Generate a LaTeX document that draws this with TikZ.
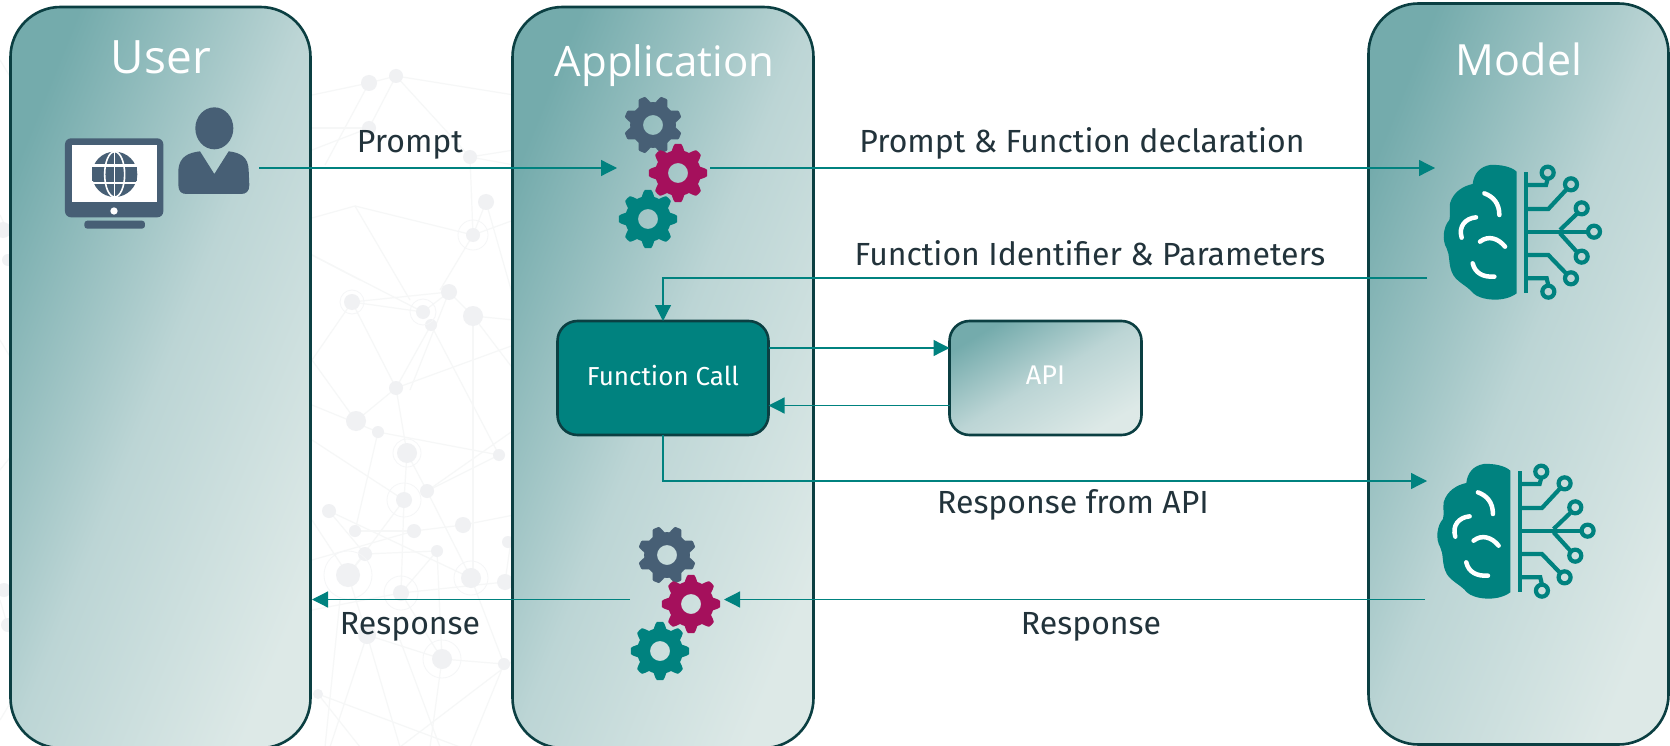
\documentclass[tikz,border=0pt]{standalone}
\usepackage{fontspec}
\setmainfont{Fira Sans}
\newfontfamily\titlefont{Open Sans}
\usetikzlibrary{arrows.meta}
\definecolor{teal}{HTML}{00827F}
\definecolor{edge}{HTML}{0B3F42}
\definecolor{slate}{HTML}{475F75}
\definecolor{plum}{HTML}{A5105C}
\definecolor{ink}{HTML}{22333B}
\definecolor{gdark}{HTML}{74ABAC}
\definecolor{gmid}{HTML}{BCD5D5}
\definecolor{glight}{HTML}{DDE9E7}
\definecolor{netc}{HTML}{F6F7F7}
\definecolor{netn}{HTML}{F0F1F3}
\definecolor{neth}{HTML}{F5F6F7}
\tikzset{
  x=1pt,y=-1pt,
  panel/.style={draw=edge,line width=2.6pt,rounded corners=50pt,top color=gdark,bottom color=glight,middle color=gmid,shading angle=68,minimum width=300pt,minimum height=741pt,inner sep=0pt,outer sep=0pt,anchor=north west},
  apibox/.style={draw=edge,line width=2.6pt,rounded corners=20pt,top color=gdark,bottom color=glight,middle color=gmid,shading angle=31,minimum width=192pt,minimum height=114pt,inner sep=0pt,outer sep=0pt,text=white,font=\fontsize{27}{30}\selectfont},
  fcbox/.style={draw=edge,line width=2.6pt,rounded corners=20pt,fill=teal,minimum width=211pt,minimum height=114pt,inner sep=0pt,outer sep=0pt,text=white,font=\fontsize{26}{29}\selectfont},
  titletext/.style={text=white,font=\titlefont\fontsize{42}{46}\selectfont,inner sep=0pt},
  lab/.style={text=ink,font=\fontsize{32}{35}\selectfont,inner sep=0pt},
  conn/.style={draw=teal,line width=1.25pt,-{Triangle[length=16pt,width=16pt]}},
  netl/.style={draw=netc,line width=1.2pt},
}
\newcommand{\gearicon}[4]{% x, y, colour, rotation
  \fill[#3,even odd rule] plot[domain=0:360,samples=181,smooth] ({#1+(26+3.2*max(min(1.6*cos(8*(\x-#4)),1),-1))*cos(\x)},{#2+(26+3.2*max(min(1.6*cos(8*(\x-#4)),1),-1))*sin(\x)}) -- cycle
    (#1+10,#2) arc[start angle=0,end angle=360,radius=10];
}
\newcommand{\brainicon}[2]{%
  \begin{scope}[shift={(#1,#2)},x=0.33333pt,y=-0.33333pt]
    \fill[teal] (350,95) .. controls (335,80) and (300,73) .. (270,75) .. controls (240,80) and (222,100) .. (218,132)
      .. controls (190,138) and (160,155) .. (150,190) .. controls (148,210) and (152,225) .. (148,240)
      .. controls (130,260) and (125,300) .. (140,325) .. controls (150,345) and (145,370) .. (155,395)
      .. controls (165,425) and (200,435) .. (220,460) .. controls (240,480) and (310,490) .. (350,460) -- cycle;
    \draw[white,line width=4.5pt,line cap=round] (253,160) .. controls (280,170) and (298,190) .. (298,225);
    \draw[white,line width=4.5pt,line cap=round] (228,232) .. controls (195,235) and (175,260) .. (185,293);
    \draw[white,line width=4.5pt,line cap=round] (240,305) .. controls (265,285) and (295,295) .. (315,320);
    \draw[white,line width=4.5pt,line cap=round] (218,370) .. controls (225,400) and (250,412) .. (283,410);
    \begin{scope}[teal,line width=4.2pt]
      \draw (378,97) -- (378,458);
      \draw (378,135) -- (438,135) -- (443,117);
      \draw (378,207) -- (445,207) -- (498,150);
      \draw (378,275) -- (562,275);
      \draw (480,270) -- (530,222);
      \draw (480,280) -- (530,335);
      \draw (378,345) -- (445,345) -- (498,400);
      \draw (378,415) -- (440,415) -- (445,436);
      \foreach \cx/\cy in {443/98,513/133,545/205,582/275,545/350,513/415,445/455}
        \draw (\cx,\cy) circle[radius=18];
    \end{scope}
  \end{scope}
}
\begin{document}
\begin{tikzpicture}
\fill[white] (0,0) rectangle (1670,747);
% faint network behind the panels
\foreach \ax/\ay/\bx/\by in {
 312/95/369/83,369/83/396/76,396/76/514/95,396/76/470/157,396/76/369/128,369/83/325/165,312/128/369/128,
 369/128/312/150,470/157/514/150,470/157/514/165,470/157/473/235,486/202/473/235,486/202/514/300,
 473/235/355/206,355/206/312/218,355/206/410/300,473/235/440/290,473/235/514/220,312/255/360/280,
 352/302/423/312,352/302/449/292,352/302/312/360,352/302/396/388,449/292/423/312,449/292/473/316,449/292/410/390,
 473/316/514/320,473/316/514/370,473/316/473/578,431/325/396/388,431/325/499/455,423/312/312/255,
 396/388/356/421,396/388/407/453,396/388/514/345,356/421/312/360,378/432/499/455,378/432/312/405,378/432/355/531,
 407/453/404/500,407/453/427/491,404/500/312/440,404/500/348/575,404/500/401/593,427/491/499/455,427/491/471/578,
 427/491/514/430,329/511/365/554,329/511/471/578,355/531/414/531,414/531/463/525,463/525/514/515,414/531/312/560,
 365/554/348/575,365/554/437/551,437/551/401/593,437/551/442/659,348/575/367/635,348/575/312/520,401/593/505/582,
 401/593/312/610,401/593/442/659,471/578/504/664,505/582/514/520,367/635/442/659,367/635/330/747,367/635/400/747,
 442/659/504/664,442/659/430/747,504/664/470/747,318/694/360/747,318/694/460/747,514/660/400/747,340/600/325/747,
 0/60/12/80,0/215/12/240,0/340/12/360,0/470/12/455,0/600/12/640,0/720/12/700,400/640/440/747}
  \draw[netl] (\ax,\ay) -- (\bx,\by);
\foreach \nx/\ny/\nr in {
 369/83/8,396/76/7,369/128/7,470/157/7,486/202/8,473/235/7,352/302/8,423/312/7,449/292/8,431/325/6,473/316/10,
 396/388/7,356/421/10,378/432/6,407/453/10,499/455/6,404/500/8,427/491/7,329/511/7,355/531/6,414/531/7,463/525/8,
 508/542/6,365/554/7,437/551/6,348/575/12,471/578/10,505/582/8,401/593/8,367/635/9,442/659/10,504/664/6,318/694/5,
 3/230/8,8/260/6,4/590/7,8/625/7}
  \fill[netn] (\nx,\ny) circle[radius=\nr];
\foreach \nx/\ny/\nr in {473/235/15,348/575/24,404/500/17,471/578/17,442/659/19,401/593/17,423/312/13,352/302/12,407/453/14}
  \draw[neth,line width=0.8pt] (\nx,\ny) circle[radius=\nr];

% panels
\node[panel] (user) at (10.5,7) {};
\node[panel,minimum width=301pt] (app) at (512.5,7) {};
\node[panel] (model) at (1368.5,3.5) {};
\node[titletext,font=\titlefont\fontsize{46}{50}\selectfont] (usertitle) at (161,57) {User};
\node[titletext] (apptitle) at (664.5,66) {Application};
\node[titletext,font=\titlefont\fontsize{43}{47}\selectfont] (modeltitle) at (1519,59) {Model};

% boxes
\node[fcbox] (fc) at (663,378) {\raisebox{6pt}{Function Call}};
\node[apibox] (api) at (1045.5,378) {\raisebox{5pt}{API}};

% monitor and person
\begin{scope}[x=0.33333pt,y=-0.33333pt]
  \fill[slate,rounded corners=6pt] (195,415) rectangle (490,652);
  \fill[white] (216,435) rectangle (472,606);
  \fill[white] (342,633) circle[radius=11];
  \fill[slate,rounded corners=3pt] (253,662) rectangle (435,686);
  \fill[slate] (344,523) circle[radius=68];
  \fill[slate] (277,502) rectangle (411,544);
  \draw[white,line width=1.6pt] (344,455) -- (344,591);
  \draw[white,line width=1.6pt] (344,523) ellipse[x radius=30,y radius=68];
  \draw[white,line width=2.4pt] (270,497) -- (418,497);
  \draw[white,line width=2.4pt] (270,549) -- (418,549);
  \fill[slate] (643,385) ellipse[x radius=57,y radius=63];
  \fill[slate] (535,510) .. controls (538,470) and (565,458) .. (600,454) -- (643,522) -- (686,454)
    .. controls (720,458) and (745,470) .. (746,510) -- (748,555) .. controls (748,575) and (738,582) .. (722,582)
    -- (560,582) .. controls (545,582) and (535,575) .. (535,555) -- cycle;
\end{scope}

% gears
\gearicon{653}{125}{slate}{22.5}
\gearicon{678}{173}{plum}{0}
\gearicon{648}{219}{teal}{0}
\gearicon{667}{555}{slate}{22.5}
\gearicon{691}{604}{plum}{0}
\gearicon{660}{651}{teal}{0}

% brains
\brainicon{1400}{140}
\brainicon{1393.6}{439}

% connector ends
\coordinate (personR) at (259,168);
\coordinate (gearIn) at (617,168);
\coordinate (gearOut) at (710,168);
\coordinate (brainIn) at (1435,168);
\coordinate (brainOut) at (1427,278);
\coordinate (turnA) at (663,278);
\coordinate (fcOutA) at (fc.east |- 0,348);
\coordinate (apiInA) at (api.west |- 0,348);
\coordinate (apiOutB) at (api.west |- 0,405.5);
\coordinate (fcInB) at (fc.east |- 0,405.5);
\coordinate (turnB) at (663,481);
\coordinate (brain2In) at (1427,481);
\coordinate (brain2Out) at (1425,599.5);
\coordinate (gear2In) at (724,599.5);
\coordinate (gear2Out) at (630,599.5);
\coordinate (userIn) at (312,599.5);

% connectors
\draw[conn] (personR) -- (gearIn);
\draw[conn] (gearOut) -- (brainIn);
\draw[conn] (brainOut) -- (turnA) -- (fc.north);
\draw[conn] (fcOutA) -- (apiInA);
\draw[conn] (apiOutB) -- (fcInB);
\draw[conn] (fc.south) -- (turnB) -- (brain2In);
\draw[conn] (brain2Out) -- (gear2In);
\draw[conn] (gear2Out) -- (userIn);

% labels
\node[lab] (l1) at (410,144.5) {Prompt};
\node[lab] (l2) at (1082,143.5) {Prompt \& Function declaration};
\node[lab] (l3) at (1090,253.5) {Function Identifier \& Parameters};
\node[lab] (l4) at (1073,504.5) {Response from API};
\node[lab] (l5) at (410,626.5) {Response};
\node[lab] (l6) at (1091,626.5) {Response};
\pgfresetboundingbox
\path[use as bounding box] (0,0) rectangle (1670,746);
\end{tikzpicture}
\end{document}
